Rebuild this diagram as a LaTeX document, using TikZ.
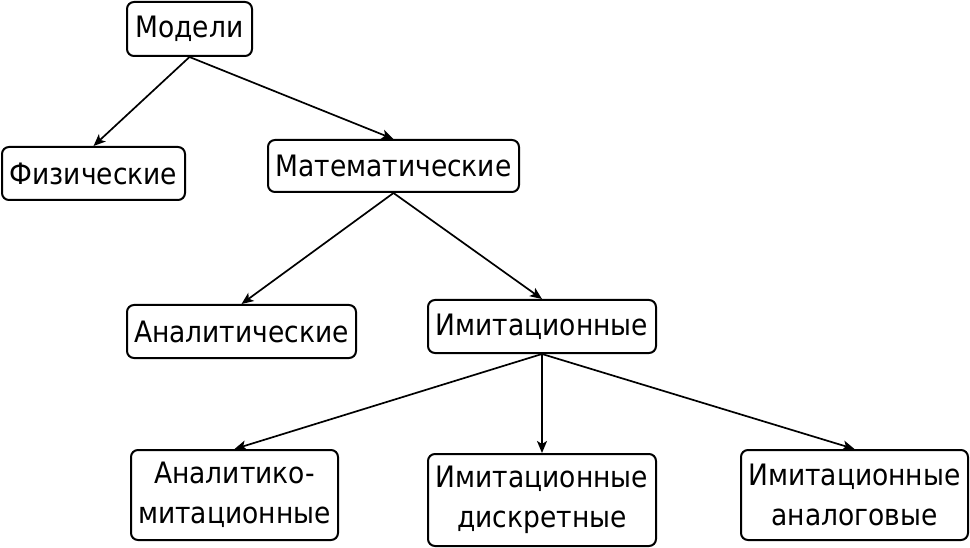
\documentclass[tikz,border=0pt]{standalone}
\usepackage{fontspec}
\setmainfont{DejaVu Sans Condensed}
\usetikzlibrary{arrows.meta}
\begin{document}
\begin{tikzpicture}[x=1pt,y=-1pt,
  box/.style={draw, rounded corners=7pt, line width=2pt, inner sep=0pt, align=center, font=\fontsize{29.5}{40}\selectfont},
  arr/.style={-{Stealth[length=12pt,width=10pt,inset=3pt]}, line width=1.7pt}]
\useasboundingbox (0,0) rectangle (970,548);
\node[box, minimum width=125pt, minimum height=54pt] (m) at (189.5,29) {Модели};
\node[box, minimum width=183pt, minimum height=53pt] (f) at (93.5,173.5) {Физические};
\node[box, minimum width=251pt, minimum height=52pt] (mt) at (393.5,166) {Математические};
\node[box, minimum width=229pt, minimum height=53pt] (an) at (241.5,331.5) {Аналитические};
\node[box, minimum width=228pt, minimum height=53pt] (im) at (542,326.5) {Имитационные};
\node[box, minimum width=207pt, minimum height=90pt] (ai) at (234.5,495) {Аналитико-\\митационные};
\node[box, minimum width=228pt, minimum height=92pt] (id) at (542,500) {Имитационные\\дискретные};
\node[box, minimum width=227pt, minimum height=90pt] (ia) at (854.5,495) {Имитационные\\аналоговые};
\draw[arr] (m.south) -- (f.north);
\draw[arr] (m.south) -- (mt.north);
\draw[arr] (mt.south) -- (an.north);
\draw[arr] (mt.south) -- (im.north);
\draw[arr] (im.south) -- (ai.north);
\draw[arr] (im.south) -- (id.north);
\draw[arr] (im.south) -- (ia.north);
\end{tikzpicture}
\end{document}
